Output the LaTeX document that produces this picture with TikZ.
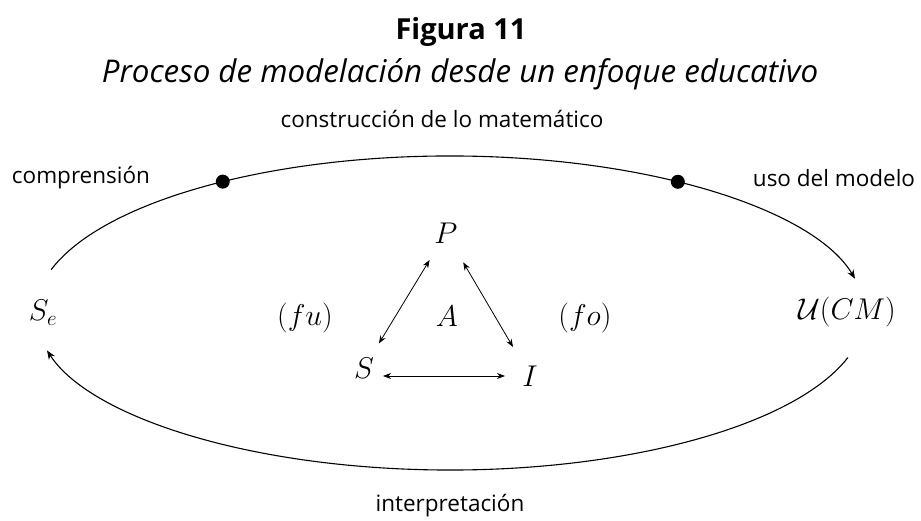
\RequirePackage{fix-cm}
\documentclass[tikz,border=0pt]{standalone}
\usepackage{amsmath}
\usepackage{fontspec}
\setmainfont{Open Sans}
\usetikzlibrary{arrows.meta}

\begin{document}
\begin{tikzpicture}[
    x=1pt,
    y=1pt,
    arcline/.style={line width=1.1pt},
    dot/.style={circle, fill=black, inner sep=0pt, minimum size=14pt},
    lab/.style={font=\fontsize{22.5}{27}\selectfont},
    mlab/.style={font=\fontsize{30}{36}\selectfont},
    tip/.style={-{Stealth[length=9pt,width=7pt]}},
    tri/.style={{Stealth[length=8pt,width=6pt]}-{Stealth[length=8pt,width=6pt]}, line width=0.8pt}
  ]
    \useasboundingbox (0,0) rectangle (921,520);

    % titulo
    \node[font=\fontsize{29}{34}\selectfont\bfseries] (fig) at (461,488) {Figura 11};
    \node[font=\fontsize{31.3}{37}\selectfont\itshape] (tit) at (460,446) {Proceso de modelación desde un enfoque educativo};

    % ciclo exterior
    \begin{scope}
      \node[mlab] (Se) at (43,207) {$S_e$};
      \node[mlab] (UCM) at (847,208) {$\mathcal{U}(CM)$};
      \coordinate (up0) at ([shift={(450,207)}]164:415 and 157);
      \coordinate (lo0) at ([shift={(450,207)}]-16.5:415 and 157);
      \draw[arcline, tip] (up0) arc[start angle=164, end angle=12.6, x radius=415, y radius=157];
      \draw[arcline, tip] (lo0) arc[start angle=-16.5, end angle=-166.2, x radius=415, y radius=157];
      \node[dot] (d1) at ([shift={(450,207)}]123.2:415 and 157) {};
      \node[dot] (d2) at ([shift={(450,207)}]56.7:415 and 157) {};
      \node[lab] (cons) at (442,401) {construcción de lo matemático};
      \node[lab] (comp) at (81,342) {comprensión};
      \node[lab] (uso) at (834,342) {uso del modelo};
      \node[lab] (inter) at (450,14) {interpretación};
    \end{scope}

    % triangulo
    \begin{scope}
      \node[mlab] (P) at (446,287) {$P$};
      \node[mlab] (S) at (364,152) {$S$};
      \node[mlab] (I) at (530,144) {$I$};
      \node[mlab] (A) at (447,204) {$A$};
      \node[mlab] (fu) at (305,202) {$(fu)$};
      \node[mlab] (fo) at (585,202) {$(fo)$};
      \draw[tri, shorten <=31.6pt, shorten >=28.7pt] (P.center) -- (S.center);
      \draw[tri, shorten <=34pt, shorten >=33.6pt] (P.center) -- (I.center);
      \draw[tri, shorten <=19pt, shorten >=25pt] ([yshift=-8pt]S.center) -- (I.center);
    \end{scope}
  \end{tikzpicture}
\end{document}
